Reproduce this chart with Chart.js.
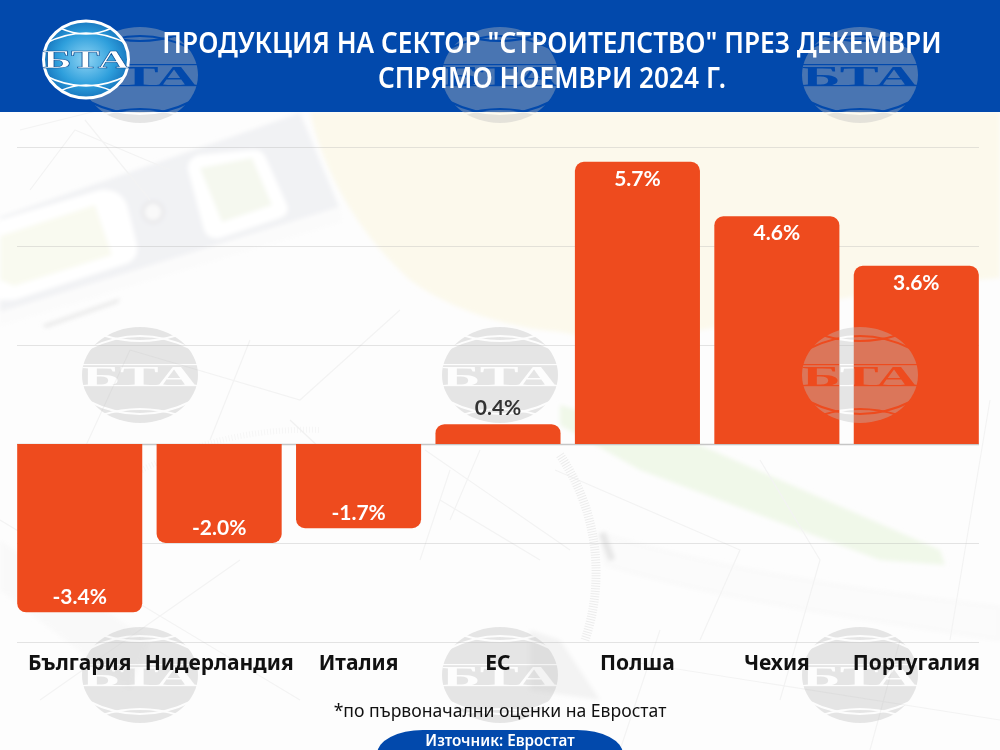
<!DOCTYPE html>
<html lang="bg">
<head>
<meta charset="utf-8">
<title>Продукция на сектор "Строителство"</title>
<script src="https://cdn.jsdelivr.net/npm/chart.js@4"></script>
<style>
html,body{margin:0;padding:0;background:#fff}
#stage{position:relative;width:1000px;height:750px;overflow:hidden;background:#fdfdfd}
#stage>*{position:absolute}
#bg{left:0;top:0;z-index:0}
#band{left:0;top:0;width:1000px;height:112px;background:#0249ac;z-index:1}
canvas{left:0;top:0;z-index:2}
#logo{left:40px;top:18px;z-index:3}
#title{left:104px;width:896px;top:25px;z-index:3;text-align:center;color:#fff;font:600 28px/35px "Noto Sans";white-space:nowrap;transform:scaleX(.936);transform-origin:448px 0}
#note{left:0;width:1000px;top:698px;z-index:3;text-align:center;color:#111;font:400 17.6px/24px "Noto Sans"}
#src{left:377px;top:730px;width:246px;height:30px;z-index:3;background:#0249ac;border-radius:46px 46px 0 0/24px 24px 0 0;text-align:center;color:#fff;font:600 15.2px/20px "Noto Sans"}
</style>
</head>
<body>
<div id="stage">
<svg id="bg" width="1000" height="750" viewBox="0 0 1000 750">
  <defs><filter id="b"><feGaussianBlur stdDeviation="2"/></filter></defs>
  <rect width="1000" height="750" fill="#fdfdfd"/>
  <path filter="url(#b)" d="M310 112C325 180 365 240 410 280C450 310 510 328 560 332C620 345 680 335 716 327C800 305 900 285 1000 278V112Z" fill="#fcf9ec"/>
  <g filter="url(#b)">
    <path d="M0 217L300 113L339 207L0 312Z" fill="#f1f2f4"/>
    <path d="M0 312L339 207L342 222L0 326Z" fill="#fbfbfb"/>
    <path d="M0 222L100 192Q118 190 125 205L135 245Q137 258 125 262L14 298H0Z" fill="#ffffff" stroke="#ffffff" stroke-width="4"/>
    <path d="M0 236L95 205L112 255L14 286L0 280Z" fill="#f9faf0"/>
    <path d="M188 170Q186 160 198 155L250 150Q262 148 266 158L287 205Q290 214 280 218L220 238Q208 240 204 230Z" fill="#ffffff"/>
    <path d="M200 168L252 158L272 205L222 222Z" fill="#f5f8ef"/>
    <circle cx="153" cy="212" r="10" fill="#f9f9f9" stroke="#e8e8ea" stroke-width="3"/>
    <path d="M42 325L120 298L118 303L46 328Z" fill="#ebebeb"/>
    <path d="M560 405L700 445L940 550L945 565L880 560L640 470L560 425Z" fill="#f0f8e9"/>
    <path d="M600 533C720 570 860 590 1000 607V640C860 618 720 600 606 565Z" fill="#fbfbfb" stroke="#f3f3f3"/>
    <path d="M602 533L612 560" stroke="#e6e6e6" stroke-width="7"/>
    <path d="M0 540L150 640L130 690L0 590Z" fill="#f9f9f9"/>
    <path d="M530 630L560 640L600 700L530 690Z" fill="#f3f3f3"/>
  </g>
  <g fill="none" stroke="#f3f3f3" stroke-width="1.2">
    <path d="M20 130L100 110M30 190L75 130L170 170M85 120L150 200M400 310L300 400L130 350M130 350L70 480M250 340L210 440"/>
    <path d="M0 520L300 700M40 700L240 560M425 450L570 550M440 500L540 560M450 470L420 560M480 450L450 520"/>
    <path d="M555 470L740 550L700 640M760 460L820 560L780 700M660 630L620 750M900 640L870 750M990 400L950 640M620 660L1000 720"/>
    <path d="M560 455A210 210 0 0 1 585 640" stroke="#ececec" stroke-width="9" stroke-dasharray="1 1.6"/>
    <path d="M30 560A360 360 0 0 1 320 430" stroke="#f6f6f6" stroke-width="6" stroke-dasharray="1 2"/>
    <path d="M290 420L370 495" stroke="#f1f1f1"/>
  </g>
</svg>
<div id="band"></div>
<canvas id="chart" width="1000" height="750"></canvas>
<svg id="logo" width="92" height="84" viewBox="0 0 92 84">
  <defs>
    <radialGradient id="g" cx=".5" cy=".5" r=".6"><stop offset="0" stop-color="#8fd4f4"/><stop offset=".55" stop-color="#2e9fdc"/><stop offset="1" stop-color="#0b62b0"/></radialGradient>
    <clipPath id="c"><ellipse cx="46" cy="41.5" rx="42.5" ry="38.5"/></clipPath>
  </defs>
  <ellipse cx="46" cy="41.5" rx="42.5" ry="38.5" fill="url(#g)" stroke="#fff" stroke-width="3"/>
  <g clip-path="url(#c)" fill="none" stroke="#fff" stroke-width="1.6">
    <path d="M20 10Q46 22 72 10M4 26Q46 4 88 26M20 73Q46 61 72 73M4 57Q46 79 88 57"/>
  </g>
  <text x="46" y="50" text-anchor="middle" textLength="86" lengthAdjust="spacingAndGlyphs" font-family="Liberation Serif" font-weight="700" font-size="26" fill="#fff" stroke="#0b4f94" stroke-width=".5">БТА</text>
</svg>
<div id="title">ПРОДУКЦИЯ НА СЕКТОР "СТРОИТЕЛСТВО" ПРЕЗ ДЕКЕМВРИ<br>СПРЯМО НОЕМВРИ 2024 Г.</div>
<div id="note">*по първоначални оценки на Евростат</div>
<div id="src">Източник: Евростат</div>
</div>
<script>
const categories = ["България", "Нидерландия", "Италия", "ЕС", "Полша", "Чехия", "Португалия"];
const values = [-3.4, -2.0, -1.7, 0.4, 5.7, 4.6, 3.6];
const valueLabels = ["-3.4%", "-2.0%", "-1.7%", "0.4%", "5.7%", "4.6%", "3.6%"];
const watermarkXs = [140, 500, 860];
const watermarkYs = [75, 375, 675];

function makeWatermark() {
  const c = document.createElement('canvas');
  c.width = 120; c.height = 100;
  const g = c.getContext('2d');
  g.fillStyle = 'rgba(190,190,190,0.38)';
  g.beginPath(); g.ellipse(60, 50, 58, 48, 0, 0, Math.PI * 2); g.fill();
  g.globalCompositeOperation = 'destination-out';
  g.strokeStyle = '#000'; g.lineWidth = 2.2;
  [[22, 10, 98, 10, 22], [8, 24, 112, 24, -2], [22, 90, 98, 90, 78], [8, 76, 112, 76, 102]].forEach(a => {
    g.beginPath(); g.moveTo(a[0], a[1]); g.quadraticCurveTo(60, a[4], a[2], a[3]); g.stroke();
  });
  g.fillStyle = '#000';
  g.save();
  g.translate(60, 61);
  g.font = 'bold 30px "Liberation Serif"';
  const w = g.measureText('БТА').width;
  g.scale(116 / w, 1);
  g.textAlign = 'center';
  g.fillText('БТА', 0, 0);
  g.restore();
  g.fillRect(0, 39, 120, 1.2);
  g.fillRect(0, 60, 120, 1.2);
  return c;
}
const wm = makeWatermark();

const gridPlugin = {
  id: 'fixedGrid',
  beforeDatasetsDraw(chart) {
    const ctx = chart.ctx, y = chart.scales.y;
    ctx.save();
    y.ticks.forEach(t => {
      const p = Math.round(y.getPixelForValue(t.value)) + 0.5;
      ctx.strokeStyle = t.value === 0 ? '#c6c6c6' : 'rgba(170,170,170,0.3)';
      ctx.lineWidth = t.value === 0 ? 1.5 : 1.2;
      ctx.beginPath(); ctx.moveTo(17, p); ctx.lineTo(979, p); ctx.stroke();
    });
    ctx.restore();
  }
};
const watermarkPlugin = {
  id: 'watermarks',
  afterDatasetsDraw(chart) {
    const ctx = chart.ctx;
    watermarkYs.forEach(wy => watermarkXs.forEach(wx => ctx.drawImage(wm, wx - 60, wy - 50)));
  }
};
const labelPlugin = {
  id: 'valueLabels',
  afterDatasetsDraw(chart) {
    const ctx = chart.ctx, meta = chart.getDatasetMeta(0);
    ctx.save();
    ctx.font = '700 21px Lato';
    ctx.textAlign = 'center';
    ctx.textBaseline = 'middle';
    meta.data.forEach((bar, i) => {
      const v = values[i];
      let y;
      if (Math.abs(v) < 1) { y = bar.y - 16; ctx.fillStyle = '#333'; }
      else { y = v > 0 ? bar.y + 17 : bar.y - 15; ctx.fillStyle = '#fff'; }
      ctx.fillText(valueLabels[i], bar.x, y);
    });
    ctx.restore();
  }
};

new Chart(document.getElementById('chart'), {
  type: 'bar',
  data: {
    labels: categories,
    datasets: [{
      data: values,
      backgroundColor: '#ee4b1e',
      borderRadius: 9,
      borderSkipped: 'start',
      categoryPercentage: 1,
      barPercentage: 0.897
    }]
  },
  plugins: [gridPlugin, watermarkPlugin, labelPlugin],
  options: {
    responsive: false,
    animation: false,
    layout: { padding: { left: 10, right: 14, top: 147, bottom: 48 } },
    plugins: { legend: { display: false }, title: { display: false }, tooltip: { enabled: false } },
    scales: {
      x: {
        afterFit(s) { s.height = 60; },
        grid: { display: false, drawTicks: false },
        border: { display: false },
        ticks: {
          z: 1,
          autoSkip: false, maxRotation: 0, minRotation: 0, padding: 9,
          color: '#111',
          font: { family: 'Noto Sans', weight: '700', size: 21 }
        }
      },
      y: {
        display: false,
        min: -4, max: 6,
        ticks: { stepSize: 2 },
        grid: { display: false }
      }
    }
  }
});
</script>
</body>
</html>
